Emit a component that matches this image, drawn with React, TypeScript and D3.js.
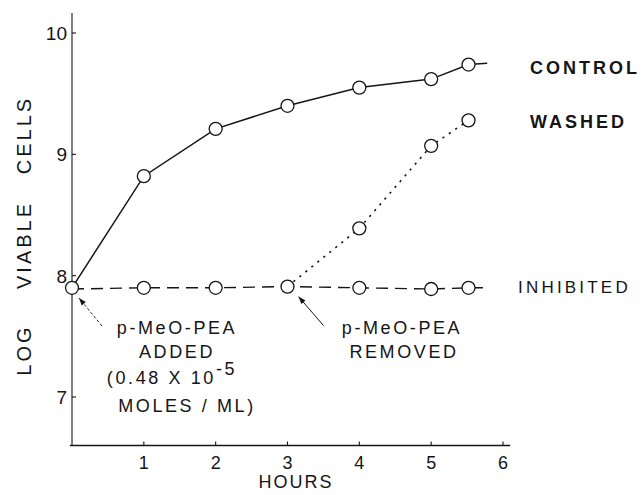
import React from "react";
import * as d3 from "d3";

const hours = [0, 1, 2, 3, 4, 5, 5.52];
const controlValues = [7.9, 8.82, 9.21, 9.4, 9.55, 9.62, 9.74];
const inhibitedValues = [7.89, 7.9, 7.9, 7.91, 7.9, 7.89, 7.9];
const washedHours = [3, 4, 5, 5.52];
const washedValues = [7.91, 8.39, 9.07, 9.28];
const controlTail: [number, number] = [5.78, 9.75];
const inhibitedTail: [number, number] = [5.75, 7.9];
const xTicks = [1, 2, 3, 4, 5, 6];
const yTicks = [7, 8, 9, 10];

const W = 643;
const H = 495;
const FONT = "'Liberation Sans', Arial, sans-serif";
const INK = "#151515";

export default function App() {
  const x = d3.scaleLinear().domain([0, 6]).range([72, 503]);
  const y = d3.scaleLinear().domain([7, 10]).range([397, 33]);
  const line = d3
    .line<[number, number]>()
    .x((d) => x(d[0]))
    .y((d) => y(d[1]));

  const controlPts: [number, number][] = hours.map((h, i) => [h, controlValues[i]]);
  const inhibitedPts: [number, number][] = hours.map((h, i) => [h, inhibitedValues[i]]);
  const washedPts: [number, number][] = washedHours.map((h, i) => [h, washedValues[i]]);

  const xMin = -0.03;
  const xMax = 6.1;
  const yMin = 6.6;
  const yMax = 10.165;

  const r = 6.5;
  const circles = [...controlPts, ...inhibitedPts.slice(1), ...washedPts.slice(1)];

  const addedPt = inhibitedPts[0];
  const removedPt = inhibitedPts[3];
  const tip1: [number, number] = [x(addedPt[0]) + 7, y(addedPt[1]) + 9];
  const tail1: [number, number] = [x(addedPt[0]) + 30, y(addedPt[1]) + 37];
  const tip2: [number, number] = [x(removedPt[0]) + 11, y(removedPt[1]) + 10];
  const tail2: [number, number] = [x(removedPt[0]) + 36, y(removedPt[1]) + 39];

  const arrowHead = (tip: [number, number], tail: [number, number]) => {
    const ang = Math.atan2(tip[1] - tail[1], tip[0] - tail[0]);
    const len = 8;
    const spread = 0.35;
    const p1 = [tip[0] - len * Math.cos(ang - spread), tip[1] - len * Math.sin(ang - spread)];
    const p2 = [tip[0] - len * Math.cos(ang + spread), tip[1] - len * Math.sin(ang + spread)];
    return `M${p1[0]},${p1[1]}L${tip[0]},${tip[1]}L${p2[0]},${p2[1]}Z`;
  };

  const txt = {
    fontFamily: FONT,
    fill: INK,
  } as const;

  return (
    <svg
      width={W}
      height={H}
      style={{ position: "fixed", left: 0, top: 0, background: "#fff" }}
    >
      <rect x={0} y={0} width={W} height={H} fill="#fff" />
      <line x1={x(0)} x2={x(0)} y1={y(yMax)} y2={y(yMin)} stroke={INK} strokeWidth={1.1} />
      <line x1={x(xMin)} x2={x(xMax)} y1={y(yMin)} y2={y(yMin)} stroke={INK} strokeWidth={1.4} />
      {yTicks.map((t) => (
        <g key={"y" + t}>
          <line x1={x(0)} x2={x(0) + 4} y1={y(t)} y2={y(t)} stroke={INK} strokeWidth={1.1} />
          <text
            {...txt}
            x={x(0) - 5}
            y={y(t)}
            dy="0.36em"
            textAnchor="end"
            fontSize={19}
          >
            {t}
          </text>
        </g>
      ))}
      {xTicks.map((t) => (
        <g key={"x" + t}>
          <line x1={x(t)} x2={x(t)} y1={y(yMin)} y2={y(yMin) - 4} stroke={INK} strokeWidth={1.1} />
          <text {...txt} x={x(t)} y={469} textAnchor="middle" fontSize={18}>
            {t}
          </text>
        </g>
      ))}
      <text {...txt} x={x(3.12)} y={488} textAnchor="middle" fontSize={18} letterSpacing={2}>
        HOURS
      </text>

      {[
        ["CELLS", 135],
        ["VIABLE", 245],
        ["LOG", 350],
      ].map(([s, cy]) => (
        <text
          key={s as string}
          {...txt}
          transform={`translate(24,${cy}) rotate(-90)`}
          textAnchor="middle"
          dy="0.36em"
          fontSize={20}
          letterSpacing={3}
        >
          {s}
        </text>
      ))}

      <path d={line([...controlPts, controlTail]) || ""} fill="none" stroke={INK} strokeWidth={1.5} />
      <path
        d={line([...inhibitedPts, inhibitedTail]) || ""}
        fill="none"
        stroke={INK}
        strokeWidth={1.4}
        strokeDasharray="12,7"
      />
      <path
        d={line(washedPts) || ""}
        fill="none"
        stroke={INK}
        strokeWidth={1.6}
        strokeDasharray="2.2,5.5"
      />

      {circles.map((p, i) => (
        <circle key={i} cx={x(p[0])} cy={y(p[1])} r={r} fill="#fff" stroke={INK} strokeWidth={1.3} />
      ))}

      <text {...txt} x={530} y={74} fontSize={18} letterSpacing={3} fontWeight="bold">
        CONTROL
      </text>
      <text {...txt} x={530} y={128} fontSize={18} letterSpacing={3} fontWeight="bold">
        WASHED
      </text>
      <text {...txt} x={518} y={293} fontSize={17} letterSpacing={3.2}>
        INHIBITED
      </text>

      <line
        x1={tail1[0]}
        y1={tail1[1]}
        x2={tip1[0]}
        y2={tip1[1]}
        stroke={INK}
        strokeWidth={0.9}
        strokeDasharray="3,2"
      />
      <path d={arrowHead(tip1, tail1)} fill={INK} />
      <g {...txt} fontSize={18} letterSpacing={2.6} textAnchor="middle">
        <text x={177} y={334}>p-MeO-PEA</text>
        <text x={177} y={358}>ADDED</text>
        <text x={172} y={384}>
          (0.48 X 10
          <tspan dy={-9} fontSize={18}>
            -5
          </tspan>
        </text>
        <text x={187} y={412}>MOLES / ML)</text>
      </g>

      <line x1={tail2[0]} y1={tail2[1]} x2={tip2[0]} y2={tip2[1]} stroke={INK} strokeWidth={1} />
      <path d={arrowHead(tip2, tail2)} fill={INK} />
      <g {...txt} fontSize={18} letterSpacing={2.6} textAnchor="middle">
        <text x={402} y={334}>p-MeO-PEA</text>
        <text x={404} y={358}>REMOVED</text>
      </g>
    </svg>
  );
}
